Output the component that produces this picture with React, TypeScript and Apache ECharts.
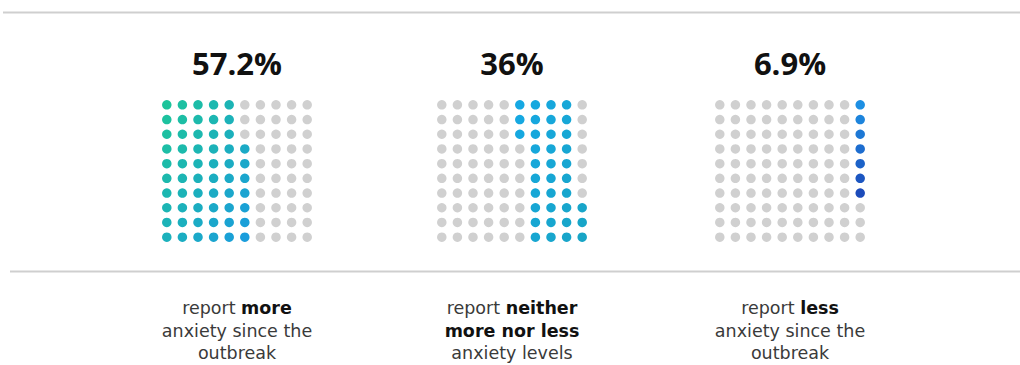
import React, { useEffect, useRef } from "react";
import * as echarts from "echarts";

const percents = [57.2, 36, 6.9];
const labelLines = [
  [["report ", "more"], ["anxiety since the"], ["outbreak"]],
  [["report ", "neither"], ["", "more nor less"], ["anxiety levels"]],
  [["report ", "less"], ["anxiety since the"], ["outbreak"]],
];
const moreMask = [
  "1111100000", "1111100000", "1111100000",
  "1111110000", "1111110000", "1111110000", "1111110000",
  "1111110000", "1111110000", "1111110000",
];
const neitherMask = [
  "0000011110", "0000011110", "0000011110",
  "0000001110", "0000001110", "0000001110", "0000001110",
  "0000001111", "0000001111", "0000001111",
];
const lessMask = [
  "0000000001", "0000000001", "0000000001",
  "0000000001", "0000000001", "0000000001", "0000000001",
  "0000000000", "0000000000", "0000000000",
];
const masks = [moreMask, neitherMask, lessMask];

const gradients = [
  ["#1dc49b", "#1a9ddc"],
  ["#16a8e3", "#18a5c6"],
  ["#1d8fe3", "#1c4bba"],
];
const GRAY = "#d0d0d0";

function hex(c: string) {
  return [1, 3, 5].map((i) => parseInt(c.slice(i, i + 2), 16));
}
function lerp(a: string, b: string, t: number) {
  const A = hex(a), B = hex(b);
  const r = A.map((v, i) => Math.round(v + (B[i] - v) * t));
  return `rgb(${r[0]},${r[1]},${r[2]})`;
}

export default function App() {
  const ref = useRef<HTMLDivElement>(null);
  useEffect(() => {
    document.body.style.margin = "0";
    const chart = echarts.init(ref.current!, null, { renderer: "svg" });
    const lefts = [159, 434, 712];
    const centers = [237, 512, 790];
    const gw = 156, gh = 147, gtop = 97.5;
    const grids = lefts.map((l) => ({ left: l, top: gtop, width: gw, height: gh }));
    const xAxes = lefts.map((_, i) => ({ gridIndex: i, type: "value", min: -0.5, max: 9.5, show: false }));
    const yAxes = lefts.map((_, i) => ({ gridIndex: i, type: "value", min: -0.5, max: 9.5, inverse: true, show: false }));
    const series: any[] = [];
    masks.forEach((mask, gi) => {
      const gray: any[] = [];
      const filled: any[] = [];
      let minC = 9, maxC = 0;
      mask.forEach((row) => row.split("").forEach((v, c) => { if (v === "1") { minC = Math.min(minC, c); maxC = Math.max(maxC, c); } }));
      mask.forEach((row, r) => {
        row.split("").forEach((v, c) => {
          if (v === "1") {
            const span = Math.max(1, maxC - minC);
            const t = gi === 2 ? r / 6 : 0.5 * ((c - minC) / span) + 0.5 * (r / 9);
            filled.push({ value: [c, r], itemStyle: { color: lerp(gradients[gi][0], gradients[gi][1], t) } });
          } else {
            gray.push([c, r]);
          }
        });
      });
      series.push({ type: "scatter", xAxisIndex: gi, yAxisIndex: gi, symbolSize: 9.5, data: gray, itemStyle: { color: GRAY, opacity: 1 }, silent: true });
      series.push({ type: "scatter", xAxisIndex: gi, yAxisIndex: gi, symbolSize: 9.5, data: filled, itemStyle: { opacity: 1 }, silent: true });
    });
    const graphic: any[] = [
      { type: "line", shape: { x1: 3, y1: 12.5, x2: 1020, y2: 12.5 }, style: { stroke: "#cfcfcf", lineWidth: 2 } },
      { type: "line", shape: { x1: 10, y1: 271.5, x2: 1020, y2: 271.5 }, style: { stroke: "#cfcfcf", lineWidth: 2 } },
    ];
    percents.forEach((p, i) => {
      graphic.push({
        type: "text", x: centers[i], y: 63,
        style: { text: `${p}%`, font: "bold 31px 'Open Sans', sans-serif", fill: "#111", textAlign: "center", textVerticalAlign: "middle" },
      });
      labelLines[i].forEach((ln, j) => {
        const txt = (ln[0] ? `{n|${ln[0]}}` : "") + (ln[1] ? `{b|${ln[1]}}` : "");
        graphic.push({
          type: "text", x: centers[i], y: 308 + j * 22.5,
          style: {
            text: txt, textAlign: "center", textVerticalAlign: "middle",
            rich: {
              n: { font: "17.5px 'DejaVu Sans', sans-serif", fill: "#3a3a3a" },
              b: { font: "bold 17.5px 'DejaVu Sans', sans-serif", fill: "#111" },
            },
          },
        });
      });
    });
    chart.setOption({ animation: false, grid: grids, xAxis: xAxes, yAxis: yAxes, series, graphic });
    return () => chart.dispose();
  }, []);
  return <div ref={ref} style={{ width: 1020, height: 365 }} />;
}
